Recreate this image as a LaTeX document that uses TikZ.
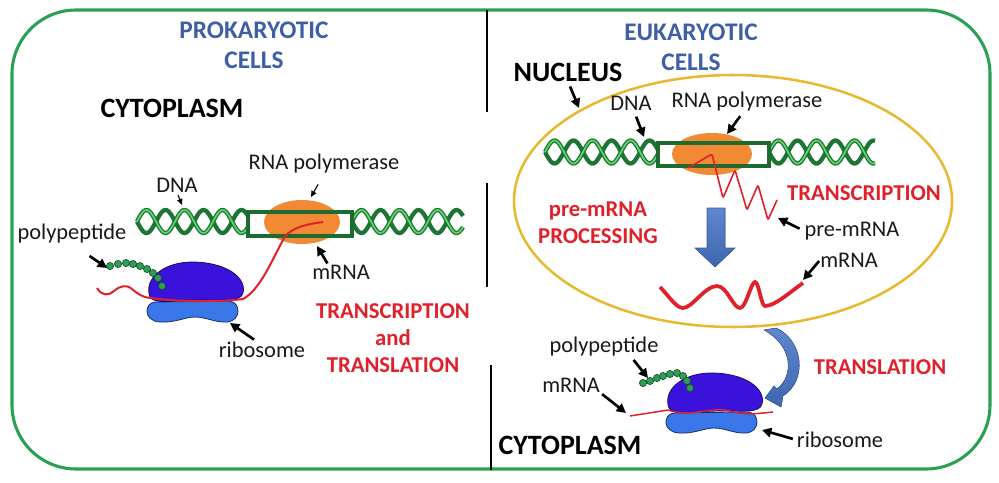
\documentclass[tikz,border=0pt]{standalone}
\usepackage{fontspec}
\setmainfont{Carlito}
\usetikzlibrary{arrows.meta}

\definecolor{framegreen}{HTML}{2BA055}
\definecolor{titleblue}{HTML}{3F5EA8}
\definecolor{stepred}{HTML}{E0202A}
\definecolor{dnadark}{HTML}{1E7434}
\definecolor{dnalight}{HTML}{62DA70}
\definecolor{boxgreen}{HTML}{1D6B2E}
\definecolor{polyorange}{HTML}{F28A35}
\definecolor{nucgold}{HTML}{E8B830}
\definecolor{ribotop}{HTML}{3A12DC}
\definecolor{ribobase}{HTML}{3A78EA}
\definecolor{beadgreen}{HTML}{2E9E55}
\definecolor{flowblue}{HTML}{4472C4}

\tikzset{
  frame/.style={draw=framegreen, line width=2.3pt, rounded corners=48pt},
  divider/.style={draw=black, line width=2.2pt},
  nucwall/.style={draw=nucgold, line width=1.9pt},
  strand/.style={draw=dnadark, line width=3.2pt},
  strandglow/.style={draw=dnalight, line width=1.2pt},
  genebox/.style={draw=boxgreen, line width=3pt},
  polymerase/.style={fill=polyorange},
  mrna/.style={draw=stepred, line width=1.5pt},
  topsub/.style={fill=ribotop, draw=ribotop!50!black, line width=0.6pt},
  basesub/.style={fill=ribobase, draw=ribobase!40!black, line width=0.6pt},
  bead/.style={fill=beadgreen, draw=beadgreen!50!black, line width=0.5pt},
  flow/.style={top color=flowblue!85!white, bottom color=flowblue!90!black, draw=flowblue!80!black, line width=0.4pt},
  arr/.style={-{Triangle[length=7pt,width=7pt]}, line width=2pt},
  thinarr/.style={-{Triangle[length=4.5pt,width=4pt]}, line width=0.8pt},
  title/.style={inner sep=0pt, align=center, text=titleblue, font=\fontsize{19}{22.5}\selectfont\bfseries},
  region/.style={inner sep=0pt, font=\fontsize{21}{24}\selectfont\bfseries},
  steptext/.style={inner sep=0pt, align=center, text=stepred, font=\fontsize{17}{20.5}\selectfont\bfseries},
  lbl/.style={inner sep=0pt, text=black!90, font=\fontsize{16.8}{19}\selectfont}
}

% double helix: from x #1 to x #2, centre y #3, amplitude #4
\newcommand\dnahelix[4]{%
  \foreach \sgn in {1,-1}
    \draw[strand] plot[domain=#1:#2, samples=80, smooth] (\x, {#3 + \sgn*#4*sin(9.47*(\x-#1))});
  \draw[strandglow] plot[domain=#1:#2, samples=80, smooth] (\x, {#3 - #4*sin(9.47*(\x-#1))});
}

% ribosome, shifted from the left one
\newcommand\ribosome[2]{%
  \begin{scope}[shift={(#1,#2)}]
    \filldraw[basesub] (155,302) .. controls (144,303) and (143,321) .. (160,322)
      .. controls (175,323) and (185,317) .. (195,317) .. controls (206,317) and (216,323) .. (228,322)
      .. controls (241,320) and (241,303) .. (230,301) -- cycle;
    \filldraw[topsub] (150,297) .. controls (143,278) and (165,262) .. (192,262)
      .. controls (225,262) and (247,277) .. (243,293) .. controls (241,302) and (224,300) .. (200,300)
      .. controls (178,300) and (154,305) .. (150,297) -- cycle;
  \end{scope}}

\begin{document}
\begin{tikzpicture}[x=0.75pt, y=-0.75pt]
  \useasboundingbox (0,0) rectangle (999,482);

  % Cell outline and the divider between the two halves
  \draw[frame] (12,10) rectangle (990,469);
  \foreach \xx/\ya/\yb in {487/10/112, 487/183/287, 491/365/470}
    \draw[divider] (\xx,\ya) -- (\xx,\yb);

  % Nucleus
  \draw[nucwall] (733,201) ellipse [x radius=164.25pt, y radius=94.5pt];

  % DNA, polymerase and the transcribed region (prokaryote)
  \dnahelix{137}{248}{221.5}{11.5}
  \dnahelix{352}{463}{221.5}{11.5}
  \fill[polymerase] (302,222) ellipse [x radius=28.5pt, y radius=16.5pt];
  \draw[genebox] (248,212) rectangle (352,236);

  % DNA, polymerase and the transcribed region (eukaryote)
  \dnahelix{545}{658}{152}{11.5}
  \dnahelix{769}{875}{152}{11.5}
  \fill[polymerase] (712,154) ellipse [x radius=30pt, y radius=15.75pt];
  \draw[genebox] (658,143) rectangle (769,166);

  % pre-mRNA leaving the polymerase
  \draw[mrna, line width=1.2pt, rounded corners=1.5pt] (688,168) -- (712,154) -- (723,198) -- (735,170)
    -- (747,210) -- (758,185) -- (768,220) -- (777,200);

  % Processing arrow and mature mRNA
  \filldraw[flow] (707,208) -- (725,208) -- (725,248) -- (735,248) -- (715,267) -- (695,248) -- (707,248) -- cycle;
  \draw[mrna, line width=2.8pt] (660,287) .. controls (668,295) and (676,308) .. (683,308)
    .. controls (692,308) and (705,286) .. (717,286) .. controls (727,286) and (733,308) .. (740,308)
    .. controls (746,308) and (751,282) .. (755,282) .. controls (759,282) and (761,306) .. (765,306)
    .. controls (775,306) and (790,292) .. (803,283);

  % Export to the cytoplasm
  \filldraw[flow] (764,330) -- (776,328) .. controls (803,340) and (808,380) .. (783,396)
    -- (781,407) -- (765,398) -- (774,386) -- (777,389)
    .. controls (795,375) and (792,345) .. (764,330) -- cycle;

  % Ribosomes
  \ribosome{0}{0}
  \ribosome{519}{111}

  % Polypeptide chains
  \foreach \bx/\by in {110/266, 118/264, 126/263, 133/264, 140/266, 147/269, 153/273, 158/278, 162/286}
    \filldraw[bead] (\bx,\by) circle [radius=2.7pt];
  \foreach \bx/\by in {643/383, 650/381, 657/378, 663/376, 670/374, 677/373, 683/376, 687/381, 690/388}
    \filldraw[bead] (\bx,\by) circle [radius=2.7pt];

  % mRNA threads
  \draw[mrna] (97,288) .. controls (102,296) and (108,296) .. (114,291) .. controls (120,286) and (126,284) .. (132,289)
    .. controls (138,294) and (142,297) .. (150,298) .. controls (180,302) and (220,302) .. (243,299)
    .. controls (260,290) and (272,260) .. (283,240) .. controls (288,230) and (300,225) .. (323,222);
  \draw[mrna, line width=1.1pt] (630,416) -- (668,410) .. controls (690,418) and (712,406) .. (730,411)
    .. controls (748,416) and (760,413) .. (773,412);

  % Titles and compartments
  \node[title] (titleProk) at (254,45) {PROKARYOTIC\\CELLS};
  \node[title] (titleEuk) at (691,47) {EUKARYOTIC\\CELLS};
  \node[region] (cytoL) at (172,108) {CYTOPLASM};
  \node[region] (cytoR) at (570,445) {CYTOPLASM};
  \node[region] (lblNucleus) at (568,72) {NUCLEUS};

  % Process names
  \node[steptext] (stepL) at (393,338) {TRANSCRIPTION\\and\\TRANSLATION};
  \node[steptext] (stepTranscr) at (864,193) {TRANSCRIPTION};
  \node[steptext] (stepProc) at (598,223) {pre-mRNA\\PROCESSING};
  \node[steptext] (stepTransl) at (880,367) {TRANSLATION};

  % Labels (prokaryote)
  \node[lbl] (lblPolL) at (324,164) {RNA polymerase};
  \node[lbl] (lblDnaL) at (177,185) {DNA};
  \node[lbl] (lblPeptL) at (72,234) {polypeptide};
  \node[lbl] (lblmRNAL) at (341,272) {mRNA};
  \node[lbl] (lblRiboL) at (262,350) {ribosome};

  % Labels (eukaryote)
  \node[lbl] (lblDnaR) at (631,103) {DNA};
  \node[lbl] (lblPolR) at (747,102) {RNA polymerase};
  \node[lbl] (lblPreR) at (852,231) {pre-mRNA};
  \node[lbl] (lblmRNAR) at (849,260) {mRNA};
  \node[lbl] (lblPeptR) at (604,347) {polypeptide};
  \node[lbl] (lblmRNAR2) at (571,385) {mRNA};
  \node[lbl] (lblRiboR) at (840,440) {ribosome};

  % Arrow targets
  \coordinate (dnaL) at (182,205);
  \coordinate (polL) at (311,197);
  \coordinate (peptL) at (107,268);
  \coordinate (mrnaL) at (317,246);
  \coordinate (riboL) at (230,323);
  \coordinate (nucWall) at (579,108);
  \coordinate (dnaR) at (644,137);
  \coordinate (polR) at (727,134);
  \coordinate (preR) at (778,218);
  \coordinate (mrnaR) at (803,280);
  \coordinate (peptR) at (648,378);
  \coordinate (mrnaR2) at (626,413);
  \coordinate (riboR) at (762,430);

  % Pointers
  \draw[thinarr, shorten <=2pt] (lblDnaL.south) -- (dnaL);
  \draw[thinarr, shorten <=9pt] (lblPolL.south) -- (polL);
  \draw[arr, shorten <=16pt] (lblPeptL.south) -- (peptL);
  \draw[arr, shorten <=1pt] (lblmRNAL.150) -- (mrnaL);
  \draw[arr, shorten <=3pt] (lblRiboL.120) -- (riboL);
  \draw[arr, shorten <=4pt] (lblNucleus.south) -- (nucWall);
  \draw[arr, shorten <=5pt] (lblDnaR.-70) -- (dnaR);
  \draw[arr, shorten <=4pt] (lblPolR.-110) -- (polR);
  \draw[arr, shorten <=4pt] (lblPreR.west) -- (preR);
  \draw[arr, shorten <=1pt] (lblmRNAR.west) -- (mrnaR);
  \draw[arr, shorten <=3pt] (lblPeptR.-20) -- (peptR);
  \draw[arr, shorten <=2pt] (lblmRNAR2.south east) -- (mrnaR2);
  \draw[arr, shorten <=3pt] (lblRiboR.west) -- (riboR);
\end{tikzpicture}
\end{document}
